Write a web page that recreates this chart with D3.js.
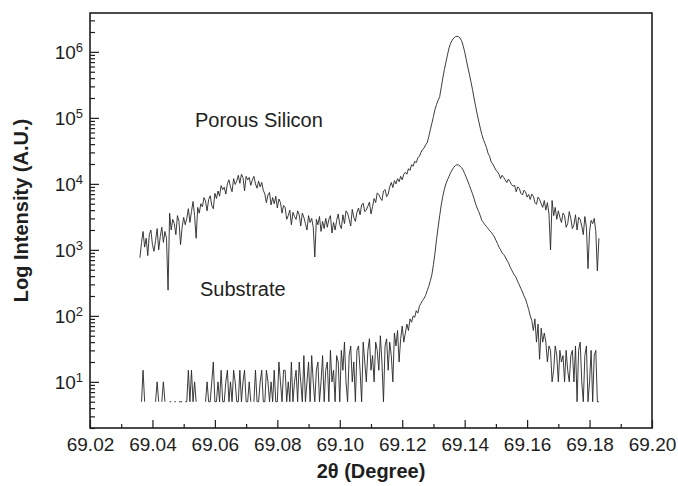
<!DOCTYPE html>
<html><head><meta charset="utf-8">
<script src="https://cdn.jsdelivr.net/npm/d3@7"></script>
<style>
body{margin:0;background:#fff}
svg{display:block}
text{font-family:"Liberation Sans",Arial,Helvetica,sans-serif;fill:#1e1e1e}
</style>
</head><body>
<svg id="chart" width="678" height="486"></svg>
<script>
// 2θ scan grid of the measurement
const thetaStart = 69.036;
const thetaStep = 0.0005;

// Porous Silicon intensities (A.U.) along the scan
const porousValues = [
  760, 1300, 1900, 1100, 1500, 820, 1700, 2000, 1200, 950,
  1400, 2100, 1000, 1600, 2200, 1300, 1900, 1500, 245, 3600,
  2000, 2900, 2500, 1700, 3300, 2700, 1200, 2200, 3100, 2400,
  3000, 4200, 2600, 3800, 5400, 3300, 1500, 4400, 3600, 5000,
  4500, 6200, 5500, 3900, 5800, 6600, 4700, 4200, 7200, 6000,
  7800, 6500, 9400, 8200, 8900, 7000, 10000, 11500, 9000, 7600,
  12000, 9800, 11000, 13500, 10200, 14000, 12500, 7800, 13000, 11500,
  12500, 9500, 11500, 13000, 10000, 8600, 11000, 9000, 10500, 8000,
  7000, 5200, 6800, 7400, 4800, 6200, 5000, 6500, 4300, 5900,
  5200, 3600, 4700, 4400, 2900, 3300, 4000, 2400, 3700, 3200,
  2900, 3900, 3400, 2300, 3600, 3100, 2500, 2000, 3300, 2600,
  3000, 2200, 780, 2900, 2400, 3200, 1900, 2700, 2100, 3000,
  2200, 2900, 3300, 1800, 2600, 2000, 2800, 3500, 2400, 2100,
  3400, 2500, 3900, 3600, 2900, 2300, 4100, 3100, 2700, 3700,
  4300, 3400, 4800, 5100, 3800, 4000, 4600, 5300, 3500, 4500,
  6000, 5200, 7300, 6900, 6100, 5600, 7800, 8200, 6400, 7000,
  9000, 10500, 8800, 11200, 10000, 12000, 10800, 13000, 11500, 14000,
  15000, 14000, 17000, 16000, 19500, 18500, 22000, 21000, 25000, 26000,
  30000, 33000, 35000, 39000, 42000, 52000, 66000, 83000, 105000, 135000,
  160000, 185000, 210000, 290000, 400000, 540000, 700000, 900000, 1150000, 1350000,
  1500000, 1620000, 1690000, 1720000, 1700000, 1620000, 1480000, 1250000, 1000000, 770000,
  590000, 460000, 355000, 270000, 200000, 150000, 115000, 89000, 70000, 56000,
  47000, 41000, 35500, 29000, 26000, 21500, 20000, 18000, 16200, 15200,
  14000, 12000, 13500, 12500, 11500, 10500, 11800, 10800, 9800, 9200,
  9500, 7600, 9000, 8500, 7200, 6800, 8000, 7600, 6300, 6900,
  5800, 7000, 6500, 5200, 4900, 6300, 5800, 5000, 4400, 5600,
  4000, 5200, 3500, 1000, 5600, 3300, 4400, 2900, 3900, 3100,
  2600, 3600, 3300, 2200, 2500, 3800, 3000, 2100, 2400, 3400,
  2000, 3100, 2900, 2300, 1700, 3200, 2200, 520, 1900, 2800,
  2500, 3000, 1900, 480, 1500
];

// Substrate intensities (A.U.); null = zero counts (not drawable on log axis)
const substrateValues = [
  null, 5, 15, 5, null, null, null, null, null, null,
  5, 10, 5, null, 5, 10, 5, null, null, 5,
  5, null, 5, 5, null, 5, 5, 5, null, 5,
  5, 15, 5, 15, 5, 10, 5, null, null, null,
  null, null, 5, 10, 5, 5, 10, 20, 5, 5,
  10, 5, 15, 5, 5, 10, 15, 5, 10, 5,
  15, 10, 5, 5, 15, 5, 10, 15, 5, 5,
  10, 5, null, 5, 15, 5, 5, 10, 15, 5,
  5, 15, 10, 5, 10, 5, 15, 5, 5, 20,
  10, 5, 15, 15, 5, 10, 5, 20, 5, 10,
  15, 5, 20, 10, 5, 25, 5, 10, 20, 5,
  25, 10, 5, 15, 20, 5, 10, 25, 5, 15,
  20, 5, 30, 10, 15, 5, 25, 20, 5, 30,
  15, 40, 10, 5, 25, 35, 10, 20, 5, 30,
  35, 15, 5, 40, 20, 10, 30, 45, 15, 25,
  10, 40, 30, 15, 50, 20, 5, 35, 45, 15,
  40, 25, 10, 55, 35, 60, 20, 45, 70, 40,
  55, 75, 60, 90, 80, 100, 95, 120, 110, 140,
  155, 170, 185, 205, 240, 280, 340, 420, 600, 900,
  1450, 2200, 3300, 4800, 6500, 8300, 10000, 11500, 13000, 14800,
  16300, 17800, 18900, 19500, 19300, 18600, 17600, 16200, 14300, 12600,
  11000, 9500, 8200, 7100, 6000, 5000, 4300, 3800, 3300, 2800,
  2600, 2400, 2250, 2100, 1950, 1850, 1700, 1580, 1400, 1250,
  1100, 1000, 900, 850, 780, 700, 640, 560, 500, 450,
  410, 380, 330, 295, 260, 230, 200, 180, 150, 125,
  100, 85, 60, 90, 40, 75, 22, 65, 40, 55,
  40, 20, 35, 30, 10, 15, 35, 25, 10, 30,
  20, 25, 10, 30, 15, 10, 25, 30, 10, 35,
  5, 30, 40, 10, 5, 25, 35, 5, 10, 30,
  5, 25, 30, 5, 5
];

const seriesNames = ["Porous Silicon", "Substrate"];
const xTickValues = [69.02, 69.04, 69.06, 69.08, 69.10, 69.12, 69.14, 69.16, 69.18, 69.20];
const xMinorTickValues = [69.03, 69.05, 69.07, 69.09, 69.11, 69.13, 69.15, 69.17, 69.19];
const yTickValues = [1e1, 1e2, 1e3, 1e4, 1e5, 1e6];
const yTickExponents = ["1", "2", "3", "4", "5", "6"];
const xTitle = "2θ (Degree)";
const yTitle = "Log Intensity (A.U.)";

const svg = d3.select("#chart");
const plot = {left: 90, right: 652, top: 13, bottom: 428};

const x = d3.scaleLinear().domain([69.02, 69.20]).range([plot.left, plot.right]);
const y = d3.scaleLog().domain([2, 3.88e6]).range([plot.bottom, plot.top]);

const toPoints = vals => vals.map((v, i) => ({t: thetaStart + i * thetaStep, v}));

const line = d3.line()
  .defined(d => d.v != null && d.v > 0)
  .x(d => x(d.t))
  .y(d => y(d.v));

const g = svg.append("g");

[porousValues, substrateValues].forEach(vals => {
  g.append("path")
    .datum(toPoints(vals))
    .attr("fill", "none")
    .attr("stroke", "#262626")
    .attr("stroke-width", 0.9)
    .attr("stroke-linejoin", "round")
    .attr("d", line);
});

// X axis
const xAxis = svg.append("g").attr("transform", `translate(0,${plot.bottom})`)
  .call(d3.axisBottom(x).tickValues(xTickValues).tickFormat(d3.format(".2f"))
        .tickSizeInner(-8).tickSizeOuter(0).tickPadding(10));
xAxis.selectAll("text").attr("font-size", 19).style("font-family", "Liberation Sans, Arial, sans-serif").attr("fill", "#1e1e1e");
const xMinor = svg.append("g").attr("transform", `translate(0,${plot.bottom})`)
  .call(d3.axisBottom(x).tickValues(xMinorTickValues).tickFormat("").tickSizeInner(-4).tickSizeOuter(0));

// Y axis
const yMinorVals = y.ticks().filter(t => !yTickValues.some(m => Math.abs(m - t) / m < 1e-9));
const yAxis = svg.append("g").attr("transform", `translate(${plot.left},0)`)
  .call(d3.axisLeft(y).tickValues(yTickValues).tickFormat("").tickSizeInner(-9).tickSizeOuter(0));
const yMinor = svg.append("g").attr("transform", `translate(${plot.left},0)`)
  .call(d3.axisLeft(y).tickValues(yMinorVals).tickFormat("").tickSizeInner(-5).tickSizeOuter(0));

[xAxis, xMinor, yAxis, yMinor].forEach(a => {
  a.select(".domain").remove();
  a.selectAll(".tick line").attr("stroke", "#1e1e1e").attr("stroke-width", 1.2);
});

// Y tick labels 10^n
yTickValues.forEach((t, i) => {
  const tx = svg.append("text")
    .attr("x", 83).attr("y", y(t) + 7.5)
    .attr("text-anchor", "end")
    .attr("font-size", 19);
  tx.append("tspan").text("10");
  tx.append("tspan").attr("dy", -7).attr("font-size", 13).text(yTickExponents[i]);
});

// Frame
svg.append("rect")
  .attr("x", plot.left).attr("y", plot.top)
  .attr("width", plot.right - plot.left).attr("height", plot.bottom - plot.top)
  .attr("fill", "none").attr("stroke", "#1e1e1e").attr("stroke-width", 1.6);

// Series labels
svg.append("text").attr("x", 195).attr("y", 127).attr("font-size", 20).text(seriesNames[0]);
svg.append("text").attr("x", 200).attr("y", 296).attr("font-size", 20).text(seriesNames[1]);

// Axis titles
svg.append("text")
  .attr("x", (plot.left + plot.right) / 2).attr("y", 478)
  .attr("text-anchor", "middle").attr("font-size", 20).attr("font-weight", "bold")
  .text(xTitle);
svg.append("text")
  .attr("transform", `translate(28,${(plot.top + plot.bottom) / 2 - 10}) rotate(-90)`)
  .attr("text-anchor", "middle").attr("font-size", 20).attr("font-weight", "bold")
  .text(yTitle);
</script>
</body></html>
